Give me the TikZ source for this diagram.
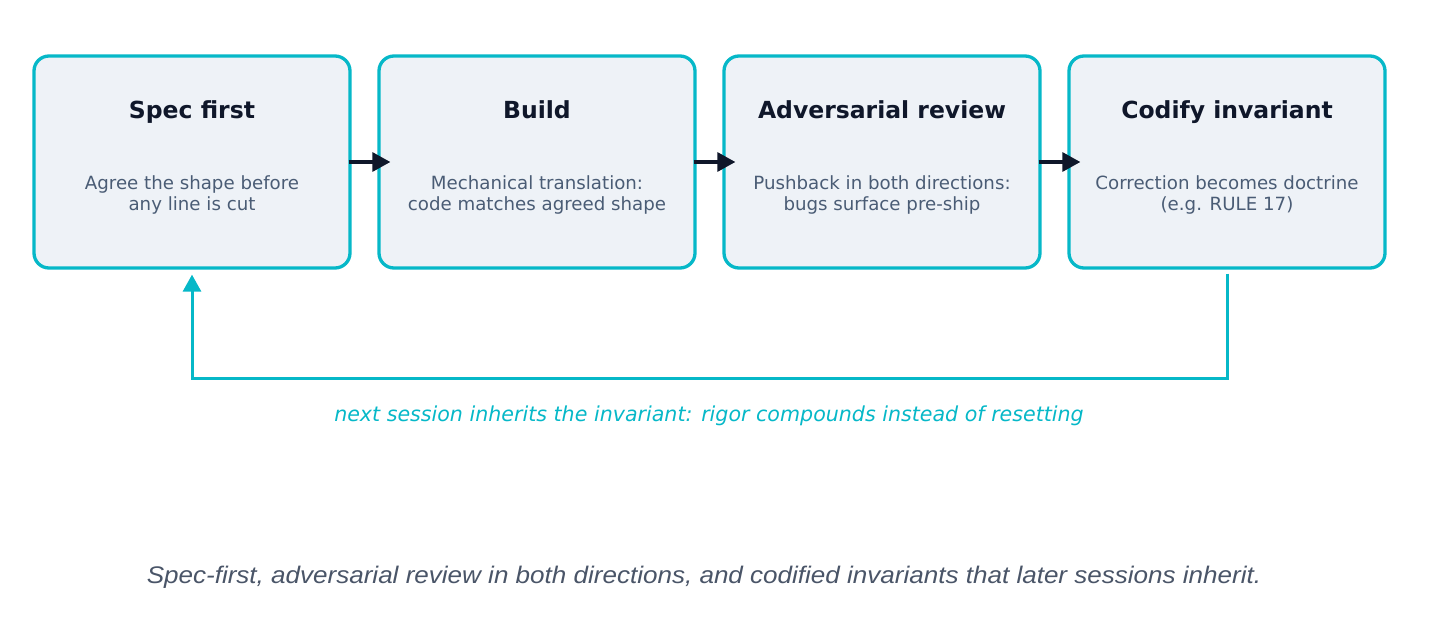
\documentclass[tikz,border=0pt]{standalone}
\usepackage{fontspec}
\setmainfont{DejaVu Sans}
\newfontfamily\capfont[FakeStretch=1.085]{Liberation Sans}
\usetikzlibrary{arrows.meta}
\definecolor{cyanc}{HTML}{06B8C8}
\definecolor{boxfill}{HTML}{EEF2F7}
\definecolor{titlec}{HTML}{0F172A}
\definecolor{descc}{HTML}{4A5C75}
\definecolor{capc}{HTML}{4A5568}
\tikzset{
  stepbox/.style={draw=cyanc, line width=3.3pt, fill=boxfill, rounded corners=15pt,
    minimum width=316pt, minimum height=212pt, inner sep=0pt},
  ttl/.style={font=\fontsize{23.5}{27}\selectfont\bfseries, text=titlec, anchor=base, inner sep=0pt},
  dsc/.style={font=\fontsize{18.2}{21}\selectfont, text=descc, align=center, anchor=center, inner sep=0pt},
  flow/.style={draw=titlec, line width=3.2pt, -{Triangle[length=18pt,width=19pt]}},
  fb/.style={draw=cyanc, line width=3pt, -{Triangle[length=17pt,width=18pt]}},
}
\begin{document}
\begin{tikzpicture}[x=1pt,y=-1pt]
\useasboundingbox (0,0) rectangle (1456,621);
\fill[white] (0,0) rectangle (1456,621);

\node[stepbox] (b1) at (192,162) {};
\node[stepbox] (b2) at (537,162) {};
\node[stepbox] (b3) at (882,162) {};
\node[stepbox] (b4) at (1227,162) {};

\node[ttl] (t1) at (192,118) {Spec first};
\node[ttl] (t2) at (537,118) {Build};
\node[ttl] (t3) at (882,118) {Adversarial review};
\node[ttl] (t4) at (1227,118) {Codify invariant};

\node[dsc] (d1) at (192,195) {Agree the shape before\\any line is cut};
\node[dsc] (d2) at (537,195) {Mechanical translation:\\code matches agreed shape};
\node[dsc] (d3) at (882,195) {Pushback in both directions:\\bugs surface pre-ship};
\node[dsc] (d4) at (1227,195) {Correction becomes doctrine\\(e.g. RULE 17)};

\draw[flow, shorten <=-3pt, shorten >=-13pt] (b1.east) -- (b2.west);
\draw[flow, shorten <=-3pt, shorten >=-13pt] (b2.east) -- (b3.west);
\draw[flow, shorten <=-3pt, shorten >=-13pt] (b3.east) -- (b4.west);

\draw[fb, shorten <=4pt, shorten >=5pt] (b4.south) -- ++(0,109) -| (b1.south);

\node[font=\fontsize{20.6}{24}\selectfont\itshape, text=cyanc, anchor=base, inner sep=0pt] (lbl) at (709,421)
  {next session inherits the invariant: rigor compounds instead of resetting};

\node[font=\capfont\fontsize{24}{28}\selectfont\itshape, text=capc, anchor=base, inner sep=0pt] (cap) at (704,583)
  {Spec-first, adversarial review in both directions, and codified invariants that later sessions inherit.};
\end{tikzpicture}
\end{document}
